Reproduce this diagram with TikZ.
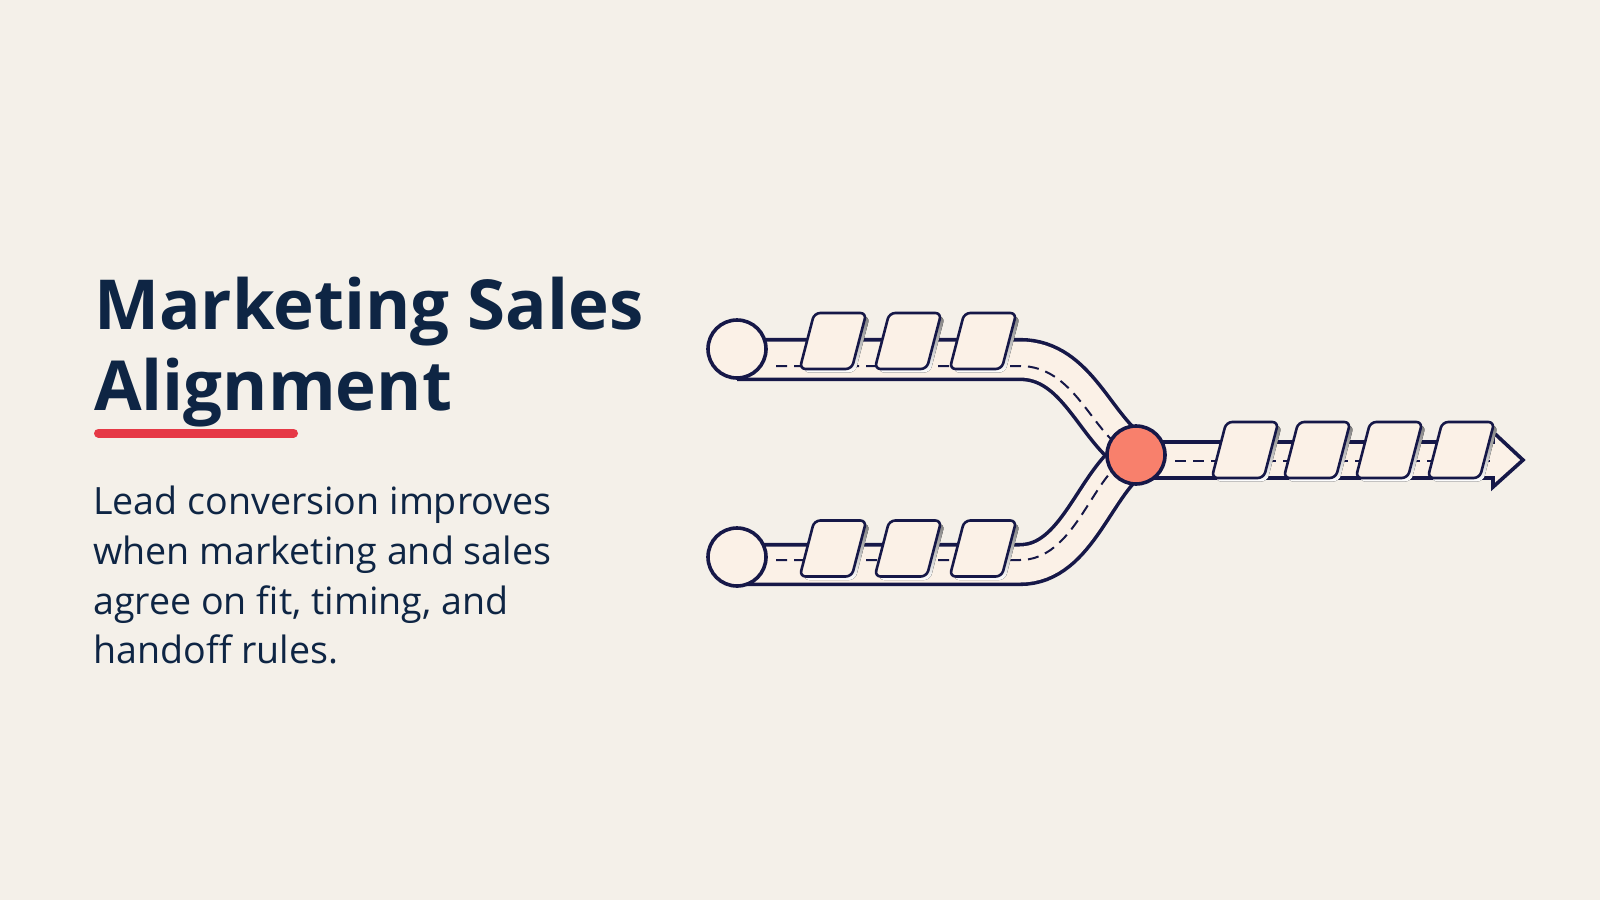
\documentclass[tikz,border=0pt]{standalone}
\usepackage{fontspec}
\setmainfont{Open Sans}
\definecolor{bg}{RGB}{244,240,233}
\definecolor{cream}{RGB}{251,241,231}
\definecolor{navy}{RGB}{22,24,72}
\definecolor{ink}{RGB}{14,37,68}
\definecolor{accent}{RGB}{230,57,70}
\definecolor{salmon}{RGB}{248,128,108}
\definecolor{shade}{RGB}{212,201,194}
\tikzset{
  lane/.style={navy, line width=3.6pt, double=cream, double distance=36pt},
  midline/.style={navy, line width=2pt, dash pattern=on 11pt off 7pt},
  stop/.style={circle, draw=navy, line width=3.6pt, fill=cream, minimum size=58pt, inner sep=0pt},
  line/.style={anchor=base west, inner sep=0pt, text=ink}
}
\newcommand\leadcard[2]{%
  \fill[shade, shift={(#1+3.5,#2+3.5)}, xslant=0.26, rounded corners=6pt]
    (-26,-28) -- (26,-28) -- (26,28) -- (-26,28) -- cycle;
  \draw[navy, fill=cream, line width=2.6pt, shift={(#1,#2)}, xslant=0.26, rounded corners=6pt]
    (-26,-28) -- (26,-28) -- (26,28) -- (-26,28) -- cycle;}
\begin{document}
\begin{tikzpicture}[x=1pt,y=-1pt]
\fill[bg] (0,0) rectangle (1600,900);
\useasboundingbox (0,0) rectangle (1600,900);

\node[line, font=\fontsize{69}{76}\selectfont\bfseries] (title1) at (94,329) {Marketing Sales};
\node[line, font=\fontsize{69}{76}\selectfont\bfseries] (title2) at (94,410) {Alignment};
\draw[accent, line width=9pt, line cap=round] (98.5,433) -- (293.5,433);

\node[line, font=\fontsize{37.6}{42}\selectfont] (body1) at (93,514) {Lead conversion improves};
\node[line, font=\fontsize{37.6}{42}\selectfont] (body2) at (93,564) {when marketing and sales};
\node[line, font=\fontsize{37.6}{42}\selectfont] (body3) at (93,614) {agree on fit, timing, and};
\node[line, font=\fontsize{37.6}{42}\selectfont] (body4) at (93,663) {handoff rules.};

\coordinate (mkt) at (737,349);
\coordinate (sales) at (737,557);
\coordinate (merge) at (1136,455);

\draw[lane] ([yshift=-10.5pt]mkt) -- (1020,359.5) .. controls (1078,359.5) and (1095,430) .. (merge);
\draw[lane] ([yshift=-7.5pt]sales) -- (1020,564.5) .. controls (1078,564.5) and (1095,480) .. (merge);
\draw[navy, line width=3.6pt, fill=cream] (merge) ++(0,-13) -- (1493,442) -- (1493,432) -- (1523,460)
  -- (1493,487) -- (1493,478) -- (1136,478) -- cycle;

\draw[midline] (776,366) -- (1020,366) .. controls (1074,366) and (1092,432) .. (1125,450);
\draw[midline] (776,560) -- (1020,560) .. controls (1074,560) and (1092,478) .. (1125,460);
\draw[midline] (1175,460.5) -- (1490,460.5);

\foreach \x in {833,908,983} \leadcard{\x}{341};
\foreach \x in {833,908,983} \leadcard{\x}{548.5};
\foreach \x in {1245,1317,1389,1461} \leadcard{\x}{450};

\node[stop] (mktstop) at (mkt) {};
\node[stop] (salesstop) at (sales) {};
\node[stop, fill=salmon] (mergestop) at (merge) {};
\end{tikzpicture}
\end{document}
